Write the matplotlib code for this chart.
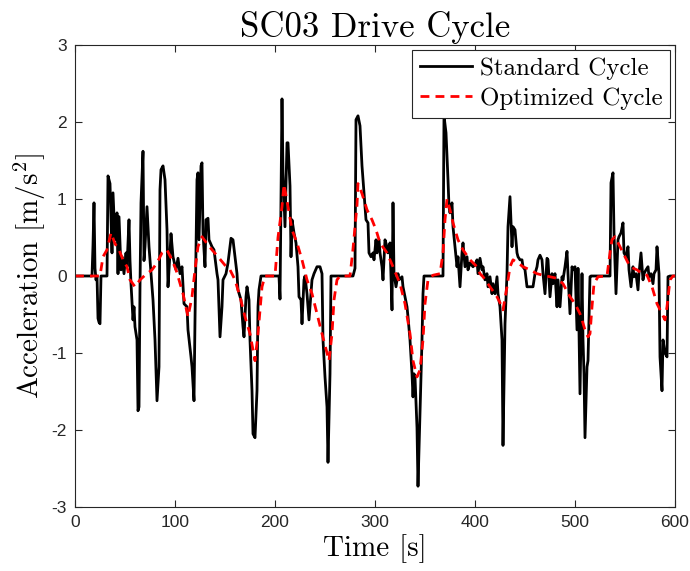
import numpy as np
import matplotlib
matplotlib.use('Agg')
import matplotlib.pyplot as plt

# Standard cycle (time [s], acceleration [m/s^2])
t_std = [0, 17, 18, 19, 20, 21, 22, 23, 24, 25, 26, 32, 33, 35, 37, 38, 40, 42, 43, 44,
         46, 47, 49, 51, 52, 54, 55, 56, 58, 59, 60, 62, 63, 64, 65, 66, 68, 69, 70, 72,
         74, 76, 78, 80, 82, 84, 85, 86, 88, 90, 92, 93, 95, 96, 98, 101, 103, 105, 107, 109,
         112, 113, 116, 117, 119, 120, 122, 123, 124, 126, 127, 128, 130, 131, 133, 134, 137, 139, 142, 143,
         145, 147, 148, 151, 153, 156, 158, 160, 162, 163, 166, 168, 169, 171, 172, 174, 175, 177, 178, 180,
         182, 183, 184, 186, 204, 205, 207, 208, 210, 212, 213, 215, 216, 217, 219, 221, 223, 224, 226, 227,
         229, 230, 232, 234, 236, 237, 239, 242, 245, 247, 248, 250, 252, 253, 255, 256, 278, 280, 281, 283,
         285, 287, 289, 291, 293, 294, 296, 298, 299, 301, 302, 304, 305, 307, 308, 310, 312, 313, 315, 317,
         318, 319, 321, 323, 324, 327, 328, 330, 332, 333, 335, 337, 338, 339, 340, 342, 343, 345, 347, 348,
         349, 368, 369, 371, 373, 374, 375, 377, 378, 380, 382, 383, 385, 387, 388, 390, 392, 393, 395, 398,
         400, 402, 403, 405, 407, 408, 410, 412, 413, 415, 417, 418, 420, 422, 423, 425, 427, 428, 430, 432,
         433, 435, 437, 438, 440, 442, 443, 445, 447, 448, 450, 452, 458, 460, 462, 463, 465, 467, 468, 470,
         472, 473, 475, 477, 478, 480, 482, 483, 485, 487, 488, 490, 492, 493, 495, 497, 498, 500, 502, 503,
         505, 507, 508, 509, 510, 512, 513, 515, 516, 535, 536, 538, 539, 541, 543, 544, 546, 548, 549, 551,
         553, 554, 556, 558, 559, 561, 563, 564, 566, 568, 569, 571, 573, 574, 576, 578, 579, 581, 582, 584,
         585, 587, 588, 590, 592, 593, 595, 600]
a_std = [0, 0, 0.4, 0.95, 0.1, -0.05, 0, -0.55, -0.6, -0.62, 0, 0, 1.3, 1.2, 0.3, 1.08, 0.47, 0.82, 0.03, 0.77,
         0.08, 0.25, 0.03, 0.3, 0.12, 0.73, 0.2, -0.1, -0.57, -0.4, -0.66, -0.83, -1.75, -1.7, -0.14, 0.95, 1.62, 0.2, 0.38, 0.9,
         0.38, 0.03, -0.31, -0.83, -1.62, -1.18, 1.12, 1.38, 1.43, 1.25, 0.6, -0.14, 0.3, 0.55, 0.25, 0.08, 0.23, 0.03, 0.12, -0.36,
         -0.4, -0.7, -1.05, -1.18, -1.62, -0.57, 1.25, 1.34, 0.47, 1.43, 1.47, 0.56, 0.12, 0.73, 0.75, 0.47, 0.38, 0.34, 0.03, -0.05,
         -0.79, -0.4, -0.05, 0.03, 0.17, 0.49, 0.47, 0.25, 0.03, -0.18, -0.31, -0.66, -0.79, -0.27, -0.14, -0.31, -0.83, -1.49, -2.05, -2.1,
         -1.49, -0.4, -0.18, 0, 0, -0.3, 2.3, 1.34, 0.64, 1.73, 1.73, 1.17, 0.25, 0.73, 0.56, 0.43, 0.12, -0.27, -0.31, -0.62,
         -0.05, 0, -0.23, -0.57, -0.23, -0.05, 0.03, 0.12, 0.12, 0.03, -0.83, -1.31, -1.7, -2.42, -1.27, 0, 0, 0.1, 2.03, 2.08,
         1.95, 1.43, 1.08, 0.73, 0.69, 0.3, 0.25, 0.3, 0.21, 0.47, 0.3, 0.47, 0.3, 0.12, -0.05, 0.47, 0.38, 0.3, 0.43, -0.44,
         0.95, 0.03, -0.14, 0.03, -0.05, -0.01, -0.14, -0.27, -0.4, -0.53, -0.83, -1.27, -1.57, -1.27, -1.31, -1.97, -2.73, -1.79, -0.83, -0.23,
         0, 0, 2.08, 1.86, 1.25, 0.9, 0.82, 0.95, 0.64, 0.38, 0.12, 0.25, -0.14, 0.3, 0.43, 0.12, 0.25, 0.08, 0.17, 0.12,
         0.15, 0.21, 0.03, 0.23, 0.08, 0.12, -0.05, 0.03, -0.14, -0.01, -0.23, -0.1, -0.23, -0.01, -0.23, -0.4, -0.83, -2.2, -0.62, 0.03,
         0.64, 1.03, 0.38, 0.64, 0.6, 0.3, 0.25, 0.21, 0.21, 0.12, 0.08, -0.14, -0.14, 0.03, 0.12, 0.21, 0.27, 0.21, 0.03, -0.23,
         0.23, 0.21, -0.27, 0.03, -0.1, 0.03, -0.4, -0.05, -0.4, -0.01, -0.05, 0.12, 0.32, 0.03, -0.49, 0.12, 0.08, 0.12, -0.7, 0.1,
         -1.53, 0.03, -0.83, -1.27, -2.1, -1.18, -1.1, -0.01, 0, 0, 1.21, 1.34, 0.56, -0.23, 0.47, 0.51, 0.56, 0.69, 0.3, 0.25,
         0.38, 0.08, -0.14, 0.12, -0.01, 0.03, -0.18, 0.03, 0.3, -0.05, 0.03, 0.08, 0.12, -0.01, 0.03, -0.1, 0.03, 0.08, 0.38, 0.03,
         -1.05, -1.49, -0.83, -1.0, -1.05, -0.01, 0, 0]

# Optimized cycle
t_opt = [0, 25, 28, 32, 36, 40, 44, 48, 52, 55, 60, 65, 70, 77, 82, 87, 92, 97, 101, 104,
         108, 113, 117, 120, 123, 127, 132, 137, 143, 150, 155, 160, 165, 170, 175, 180, 183, 187, 190, 200,
         203, 207, 209, 213, 217, 222, 227, 232, 237, 242, 247, 252, 254, 257, 259, 262, 265, 275, 278, 282,
         283, 287, 292, 297, 301, 305, 312, 318, 325, 330, 335, 338, 342, 345, 348, 350, 353, 358, 365, 368,
         370, 372, 375, 378, 383, 388, 395, 402, 405, 408, 415, 422, 427, 428, 432, 435, 438, 443, 448, 455,
         462, 468, 475, 482, 488, 495, 500, 505, 507, 510, 513, 515, 517, 519, 523, 532, 535, 537, 540, 545,
         550, 555, 562, 567, 572, 577, 582, 587, 590, 592, 595, 598, 600]
a_opt = [0, 0, 0.25, 0.34, 0.56, 0.42, 0.34, 0.21, 0.12, -0.05, -0.14, -0.05, 0.01, 0.08, 0.17, 0.3, 0.34, 0.21, 0.08, -0.05,
         -0.23, -0.53, -0.27, 0.08, 0.38, 0.51, 0.42, 0.34, 0.25, 0.14, 0.08, -0.05, -0.27, -0.53, -0.75, -1.1, -0.75, -0.14, 0, 0,
         0.5, 0.9, 1.19, 0.9, 0.6, 0.43, 0.21, -0.05, -0.23, -0.49, -0.75, -1.0, -1.1, -0.75, -0.31, -0.05, 0, 0, 0.35, 0.92,
         1.2, 1.07, 0.86, 0.73, 0.6, 0.43, 0.3, 0.12, -0.1, -0.36, -0.75, -1.1, -1.31, -1.22, -0.83, -0.36, -0.05, 0.01, 0.03, 0.3,
         0.73, 1.0, 0.86, 0.69, 0.47, 0.34, 0.21, 0.12, 0.03, -0.01, -0.14, -0.27, -0.4, -0.44, -0.14, 0.12, 0.21, 0.17, 0.12, 0.08,
         0.03, 0.01, -0.01, -0.03, -0.1, -0.27, -0.36, -0.49, -0.57, -0.7, -0.79, -0.75, -0.4, -0.1, -0.01, 0, 0.3, 0.47, 0.51, 0.38,
         0.25, 0.12, 0.08, 0.03, 0.01, -0.14, -0.36, -0.49, -0.57, -0.4, -0.05, 0, 0]

plt.rcParams['font.family'] = 'cmr10'
plt.rcParams['mathtext.fontset'] = 'cm'
plt.rcParams['axes.unicode_minus'] = False

fig = plt.figure(figsize=(6.9, 5.71), dpi=100)
ax = fig.add_axes([75 / 690, 64 / 571, 600 / 690, 462 / 571])

ax.plot(t_std, a_std, color='black', linewidth=2.0, label='Standard Cycle')
ax.plot(t_opt, a_opt, color='red', linewidth=2.0, linestyle=(0, (3.2, 2.2)), label='Optimized Cycle')

ax.set_xlim(0, 600)
ax.set_ylim(-3, 3)
ax.set_xticks(np.arange(0, 601, 100))
ax.set_yticks(np.arange(-3, 4, 1))
for lbl in ax.get_xticklabels() + ax.get_yticklabels():
    lbl.set_family(['Liberation Sans', 'DejaVu Sans'])
    lbl.set_fontsize(12.5)
ax.tick_params(direction='in', top=True, right=True, length=5, width=0.8, pad=6,
               colors='#262626', labelcolor='#262626')
for s in ax.spines.values():
    s.set_color('#262626')
    s.set_linewidth(0.8)

ax.set_title('SC03 Drive Cycle', fontsize=25, pad=6)
ax.set_xlabel('Time [s]', fontsize=21, labelpad=3)
ax.set_ylabel(r'Acceleration [m/s$^2$]', fontsize=21, labelpad=2)

leg = ax.legend(loc='upper right', fontsize=18, fancybox=False, edgecolor='#262626',
                framealpha=1, borderaxespad=0.2, handlelength=2.1, handletextpad=0.3,
                borderpad=0.3, labelspacing=0.3)
leg.get_frame().set_linewidth(0.8)

fig.savefig('out.png', dpi=100)
